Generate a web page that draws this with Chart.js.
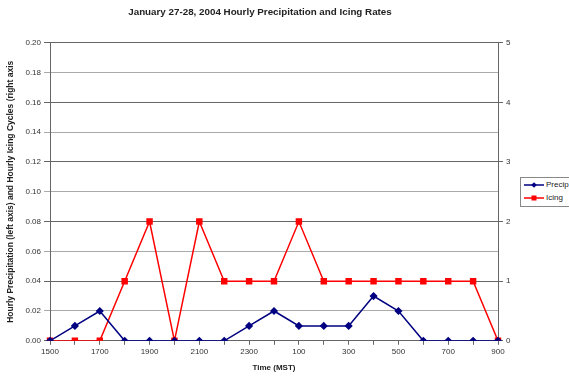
<html><head><meta charset="utf-8">
<script src="https://cdn.jsdelivr.net/npm/chart.js@4.4.0/dist/chart.umd.min.js"></script>
<style>
 body{margin:0;background:#fff;}
 #wrap{position:relative;width:569px;height:379px;}
 #legend{position:absolute;left:520px;top:177px;width:60px;height:28px;border:1px solid #888;background:#fff;
   font:8px "Liberation Sans",Arial,sans-serif;color:#222;}
 #legend div{height:13px;line-height:13px;white-space:nowrap;}
 #legend span{display:inline-block;vertical-align:middle;margin:0 2px 0 3px;}
</style>
</head>
<body>
<div id="wrap">
<canvas id="myChart" width="569" height="379"></canvas>
<div id="legend">
 <div><span><svg width="20" height="6"><line x1="0" y1="3" x2="20" y2="3" stroke="#000080" stroke-width="1.5"/><rect x="8" y="1" width="4" height="4" fill="#000080" transform="rotate(45 10 3)"/></svg></span>Precip</div>
 <div><span><svg width="20" height="6"><line x1="0" y1="3" x2="20" y2="3" stroke="#ff0000" stroke-width="1.5"/><rect x="7.5" y="0.5" width="5" height="5" fill="#ff0000"/></svg></span>Icing</div>
</div>
</div>
<script>
var hours = ['1500','1600','1700','1800','1900','2000','2100','2200','2300','2400','100','200','300','400','500','600','700','800','900'];
var precip = [0,0.01,0.02,0,0,0,0,0,0.01,0.02,0.01,0.01,0.01,0.03,0.02,0,0,0,0];
var icing = [0,0,0,1,2,0,2,1,1,1,2,1,1,1,1,1,1,1,0];
var font = '"Liberation Sans", Arial, sans-serif';

var ctx = document.getElementById('myChart');
var myChart = new Chart(ctx, {
  type: 'line',
  data: {
    labels: hours,
    datasets: [{
      label: 'Precip',
      data: precip,
      yAxisID: 'y',
      borderColor: '#000080',
      backgroundColor: '#000080',
      borderWidth: 1.5,
      pointStyle: 'rectRot',
      pointRadius: 3,
      tension: 0
    }, {
      label: 'Icing',
      data: icing,
      yAxisID: 'y2',
      borderColor: '#ff0000',
      backgroundColor: '#ff0000',
      borderWidth: 1.5,
      pointStyle: 'rect',
      pointRadius: 3.5,
      tension: 0
    }]
  },
  options: {
    responsive: false,
    animation: false,
    layout: {padding: {left: 6, right: 55, top: 0, bottom: 6}},
    plugins: {
      legend: {display: false},
      tooltip: {enabled: false},
      title: {
        display: true,
        text: 'January 27-28, 2004 Hourly Precipitation and Icing Rates',
        color: '#222',
        font: {family: font, size: 9.8, weight: 'bold'},
        padding: {top: 6, bottom: 25}
      }
    },
    scales: {
      x: {
        offset: false,
        border: {color: '#666', width: 1},
        grid: {drawOnChartArea: false, tickLength: 4, color: '#666'},
        ticks: {
          autoSkip: false, maxRotation: 0, color: '#333', padding: 2,
          font: {family: font, size: 8},
          callback: function (v, i) { return i % 2 === 0 ? hours[i] : ''; }
        },
        title: {display: true, text: 'Time (MST)', color: '#222',
          font: {family: font, size: 8, weight: 'bold'}, padding: {top: 5, bottom: 0}}
      },
      y: {
        position: 'left',
        min: 0, max: 0.2,
        border: {color: '#666', width: 1},
        grid: {
          color: function (c) { return c.index % 2 === 0 ? '#666' : '#aaa'; },
          lineWidth: 1, tickLength: 6
        },
        ticks: {stepSize: 0.02, color: '#333', padding: 3,
          font: {family: font, size: 8},
          callback: function (v) { return v.toFixed(2); }},
        title: {display: true, text: 'Hourly Precipitation (left axis) and Hourly Icing Cycles (right axis',
          color: '#222', font: {family: font, size: 8.5, weight: 'bold'}, padding: {top: 0, bottom: 1}},
        afterFit: function (s) { s.width = 44; }
      },
      y2: {
        position: 'right',
        min: 0, max: 5,
        border: {color: '#666', width: 1},
        grid: {drawOnChartArea: false, tickLength: 5, color: '#666'},
        ticks: {stepSize: 1, color: '#333', padding: 3,
          font: {family: font, size: 8}},
        afterFit: function (s) { s.width = 16; }
      }
    }
  }
});
</script>
</body></html>
